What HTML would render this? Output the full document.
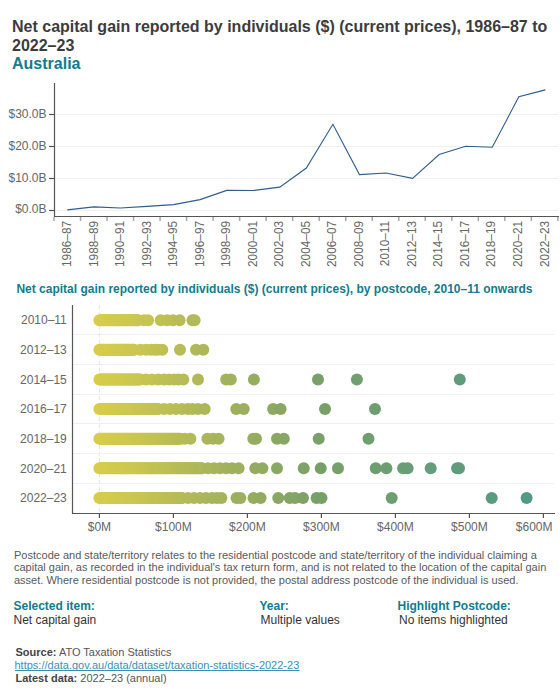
<!DOCTYPE html>
<html><head><meta charset="utf-8"><style>
html,body{margin:0;padding:0;background:#fff;width:560px;height:700px;overflow:hidden;}
body{position:relative;font-family:'Liberation Sans', sans-serif;}
svg{position:absolute;left:0;top:0;}
.ax{font-family:'Liberation Sans', sans-serif;font-size:12px;fill:#666;}
.t{position:absolute;white-space:nowrap;}
</style></head><body>
<svg width="560" height="700" viewBox="0 0 560 700">
<text x="12" y="32" style="font-family:'Liberation Sans', sans-serif;font-size:16px;font-weight:bold;fill:#3c3c3c">Net capital gain reported by individuals ($) (current prices), 1986–87 to</text>
<text x="12" y="50.7" style="font-family:'Liberation Sans', sans-serif;font-size:16px;font-weight:bold;fill:#3c3c3c">2022–23</text>
<text x="12" y="69.1" style="font-family:'Liberation Sans', sans-serif;font-size:16px;font-weight:bold;fill:#137b8d">Australia</text>
<text x="16.4" y="292.8" style="font-family:'Liberation Sans', sans-serif;font-size:12px;font-weight:bold;fill:#137b8d">Net capital gain reported by individuals ($) (current prices), by postcode, 2010–11 onwards</text>
<line x1="55" y1="114.5" x2="558" y2="114.5" stroke="#f0f0f0" stroke-width="1"/>
<line x1="55" y1="146.5" x2="558" y2="146.5" stroke="#f0f0f0" stroke-width="1"/>
<line x1="55" y1="178.5" x2="558" y2="178.5" stroke="#f0f0f0" stroke-width="1"/>
<line x1="55" y1="210.5" x2="558" y2="210.5" stroke="#f0f0f0" stroke-width="1"/>
<line x1="49" y1="114.5" x2="54.5" y2="114.5" stroke="#555" stroke-width="1.2"/>
<text x="46.5" y="117.5" text-anchor="end" class="ax">$30.0B</text>
<line x1="49" y1="146.5" x2="54.5" y2="146.5" stroke="#555" stroke-width="1.2"/>
<text x="46.5" y="149.5" text-anchor="end" class="ax">$20.0B</text>
<line x1="49" y1="178.5" x2="54.5" y2="178.5" stroke="#555" stroke-width="1.2"/>
<text x="46.5" y="181.5" text-anchor="end" class="ax">$10.0B</text>
<line x1="49" y1="210.5" x2="54.5" y2="210.5" stroke="#555" stroke-width="1.2"/>
<text x="46.5" y="212.5" text-anchor="end" class="ax">$0.0B</text>
<line x1="54.5" y1="83" x2="54.5" y2="216.6" stroke="#555" stroke-width="1.2"/>
<line x1="54" y1="216.5" x2="559" y2="216.5" stroke="#555" stroke-width="1.2"/>
<line x1="54.00" y1="217" x2="54.00" y2="221" stroke="#a8a8a8" stroke-width="1.5"/>
<line x1="80.52" y1="217" x2="80.52" y2="221" stroke="#a8a8a8" stroke-width="1.5"/>
<line x1="107.04" y1="217" x2="107.04" y2="221" stroke="#a8a8a8" stroke-width="1.5"/>
<line x1="133.56" y1="217" x2="133.56" y2="221" stroke="#a8a8a8" stroke-width="1.5"/>
<line x1="160.08" y1="217" x2="160.08" y2="221" stroke="#a8a8a8" stroke-width="1.5"/>
<line x1="186.60" y1="217" x2="186.60" y2="221" stroke="#a8a8a8" stroke-width="1.5"/>
<line x1="213.12" y1="217" x2="213.12" y2="221" stroke="#a8a8a8" stroke-width="1.5"/>
<line x1="239.64" y1="217" x2="239.64" y2="221" stroke="#a8a8a8" stroke-width="1.5"/>
<line x1="266.16" y1="217" x2="266.16" y2="221" stroke="#a8a8a8" stroke-width="1.5"/>
<line x1="292.68" y1="217" x2="292.68" y2="221" stroke="#a8a8a8" stroke-width="1.5"/>
<line x1="319.20" y1="217" x2="319.20" y2="221" stroke="#a8a8a8" stroke-width="1.5"/>
<line x1="345.72" y1="217" x2="345.72" y2="221" stroke="#a8a8a8" stroke-width="1.5"/>
<line x1="372.24" y1="217" x2="372.24" y2="221" stroke="#a8a8a8" stroke-width="1.5"/>
<line x1="398.76" y1="217" x2="398.76" y2="221" stroke="#a8a8a8" stroke-width="1.5"/>
<line x1="425.28" y1="217" x2="425.28" y2="221" stroke="#a8a8a8" stroke-width="1.5"/>
<line x1="451.80" y1="217" x2="451.80" y2="221" stroke="#a8a8a8" stroke-width="1.5"/>
<line x1="478.32" y1="217" x2="478.32" y2="221" stroke="#a8a8a8" stroke-width="1.5"/>
<line x1="504.84" y1="217" x2="504.84" y2="221" stroke="#a8a8a8" stroke-width="1.5"/>
<line x1="531.36" y1="217" x2="531.36" y2="221" stroke="#a8a8a8" stroke-width="1.5"/>
<line x1="557.88" y1="217" x2="557.88" y2="221" stroke="#a8a8a8" stroke-width="1.5"/>
<text transform="translate(71.15,220.9) rotate(-90)" text-anchor="end" class="ax" style="font-size:11.85px">1986–87</text>
<text transform="translate(97.67,220.9) rotate(-90)" text-anchor="end" class="ax" style="font-size:11.85px">1988–89</text>
<text transform="translate(124.19,220.9) rotate(-90)" text-anchor="end" class="ax" style="font-size:11.85px">1990–91</text>
<text transform="translate(150.71,220.9) rotate(-90)" text-anchor="end" class="ax" style="font-size:11.85px">1992–93</text>
<text transform="translate(177.23,220.9) rotate(-90)" text-anchor="end" class="ax" style="font-size:11.85px">1994–95</text>
<text transform="translate(203.75,220.9) rotate(-90)" text-anchor="end" class="ax" style="font-size:11.85px">1996–97</text>
<text transform="translate(230.27,220.9) rotate(-90)" text-anchor="end" class="ax" style="font-size:11.85px">1998–99</text>
<text transform="translate(256.79,220.9) rotate(-90)" text-anchor="end" class="ax" style="font-size:11.85px">2000–01</text>
<text transform="translate(283.31,220.9) rotate(-90)" text-anchor="end" class="ax" style="font-size:11.85px">2002–03</text>
<text transform="translate(309.83,220.9) rotate(-90)" text-anchor="end" class="ax" style="font-size:11.85px">2004–05</text>
<text transform="translate(336.35,220.9) rotate(-90)" text-anchor="end" class="ax" style="font-size:11.85px">2006–07</text>
<text transform="translate(362.87,220.9) rotate(-90)" text-anchor="end" class="ax" style="font-size:11.85px">2008–09</text>
<text transform="translate(389.39,220.9) rotate(-90)" text-anchor="end" class="ax" style="font-size:11.85px">2010–11</text>
<text transform="translate(415.91,220.9) rotate(-90)" text-anchor="end" class="ax" style="font-size:11.85px">2012–13</text>
<text transform="translate(442.43,220.9) rotate(-90)" text-anchor="end" class="ax" style="font-size:11.85px">2014–15</text>
<text transform="translate(468.95,220.9) rotate(-90)" text-anchor="end" class="ax" style="font-size:11.85px">2016–17</text>
<text transform="translate(495.47,220.9) rotate(-90)" text-anchor="end" class="ax" style="font-size:11.85px">2018–19</text>
<text transform="translate(521.99,220.9) rotate(-90)" text-anchor="end" class="ax" style="font-size:11.85px">2020–21</text>
<text transform="translate(548.51,220.9) rotate(-90)" text-anchor="end" class="ax" style="font-size:11.85px">2022–23</text>
<path d="M67.30,209.9 L93.86,206.9 L120.42,208 L146.98,206.4 L173.54,204.6 L200.10,199.6 L226.66,190.4 L253.22,190.5 L279.78,187.1 L306.34,168 L332.90,124.3 L359.46,174.6 L386.02,173 L412.58,178.4 L439.14,154.6 L465.70,146.3 L492.26,147.3 L518.82,96.8 L545.38,89.9" fill="none" stroke="#2e5d8e" stroke-width="1.1" stroke-linejoin="miter"/>
<line x1="99.4" y1="305" x2="99.4" y2="512.5" stroke="#e6e6e6" stroke-width="1" stroke-dasharray="4,3"/>
<line x1="73" y1="334.5" x2="554" y2="334.5" stroke="#f0f0f0" stroke-width="1"/>
<line x1="73" y1="364.5" x2="554" y2="364.5" stroke="#f0f0f0" stroke-width="1"/>
<line x1="73" y1="394.5" x2="554" y2="394.5" stroke="#f0f0f0" stroke-width="1"/>
<line x1="73" y1="423.5" x2="554" y2="423.5" stroke="#f0f0f0" stroke-width="1"/>
<line x1="73" y1="453.5" x2="554" y2="453.5" stroke="#f0f0f0" stroke-width="1"/>
<line x1="73" y1="483.5" x2="554" y2="483.5" stroke="#f0f0f0" stroke-width="1"/>
<line x1="72.5" y1="305" x2="72.5" y2="514.1" stroke="#555" stroke-width="1.2"/>
<line x1="72" y1="513.5" x2="555" y2="513.5" stroke="#555" stroke-width="1.2"/>
<line x1="99.4" y1="514" x2="99.4" y2="518" stroke="#555" stroke-width="1.2"/>
<text x="99.4" y="531" text-anchor="middle" class="ax">$0M</text>
<line x1="173.4" y1="514" x2="173.4" y2="518" stroke="#555" stroke-width="1.2"/>
<text x="173.4" y="531" text-anchor="middle" class="ax">$100M</text>
<line x1="247.4" y1="514" x2="247.4" y2="518" stroke="#555" stroke-width="1.2"/>
<text x="247.4" y="531" text-anchor="middle" class="ax">$200M</text>
<line x1="321.4" y1="514" x2="321.4" y2="518" stroke="#555" stroke-width="1.2"/>
<text x="321.4" y="531" text-anchor="middle" class="ax">$300M</text>
<line x1="395.4" y1="514" x2="395.4" y2="518" stroke="#555" stroke-width="1.2"/>
<text x="395.4" y="531" text-anchor="middle" class="ax">$400M</text>
<line x1="469.4" y1="514" x2="469.4" y2="518" stroke="#555" stroke-width="1.2"/>
<text x="469.4" y="531" text-anchor="middle" class="ax">$500M</text>
<line x1="543.4" y1="514" x2="543.4" y2="518" stroke="#555" stroke-width="1.2"/>
<text x="552.5" y="531" text-anchor="end" class="ax">$600M</text>
<text x="66.8" y="324.4" text-anchor="end" class="ax">2010–11</text>
<text x="66.8" y="354.0" text-anchor="end" class="ax">2012–13</text>
<text x="66.8" y="383.6" text-anchor="end" class="ax">2014–15</text>
<text x="66.8" y="413.3" text-anchor="end" class="ax">2016–17</text>
<text x="66.8" y="442.9" text-anchor="end" class="ax">2018–19</text>
<text x="66.8" y="472.5" text-anchor="end" class="ax">2020–21</text>
<text x="66.8" y="502.1" text-anchor="end" class="ax">2022–23</text>
<circle cx="99.40" cy="320.2" r="6" fill="#d8cd4a"/>
<circle cx="100.40" cy="320.2" r="6" fill="#d8cd4a"/>
<circle cx="101.40" cy="320.2" r="6" fill="#d7cd4a"/>
<circle cx="102.40" cy="320.2" r="6" fill="#d7cd4a"/>
<circle cx="103.40" cy="320.2" r="6" fill="#d7cc4b"/>
<circle cx="104.40" cy="320.2" r="6" fill="#d6cc4b"/>
<circle cx="105.40" cy="320.2" r="6" fill="#d6cc4b"/>
<circle cx="106.40" cy="320.2" r="6" fill="#d6cc4b"/>
<circle cx="107.40" cy="320.2" r="6" fill="#d5cc4b"/>
<circle cx="108.40" cy="320.2" r="6" fill="#d5cc4b"/>
<circle cx="109.40" cy="320.2" r="6" fill="#d5cb4c"/>
<circle cx="110.40" cy="320.2" r="6" fill="#d4cb4c"/>
<circle cx="111.40" cy="320.2" r="6" fill="#d4cb4c"/>
<circle cx="112.40" cy="320.2" r="6" fill="#d4cb4c"/>
<circle cx="113.40" cy="320.2" r="6" fill="#d3cb4c"/>
<circle cx="114.40" cy="320.2" r="6" fill="#d3cb4c"/>
<circle cx="115.40" cy="320.2" r="6" fill="#d3ca4d"/>
<circle cx="116.40" cy="320.2" r="6" fill="#d2ca4d"/>
<circle cx="117.40" cy="320.2" r="6" fill="#d2ca4d"/>
<circle cx="118.40" cy="320.2" r="6" fill="#d2ca4d"/>
<circle cx="119.40" cy="320.2" r="6" fill="#d1ca4d"/>
<circle cx="120.40" cy="320.2" r="6" fill="#d1ca4d"/>
<circle cx="121.40" cy="320.2" r="6" fill="#d1c94e"/>
<circle cx="122.40" cy="320.2" r="6" fill="#d0c94e"/>
<circle cx="123.40" cy="320.2" r="6" fill="#d0c94e"/>
<circle cx="124.40" cy="320.2" r="6" fill="#d0c94e"/>
<circle cx="125.40" cy="320.2" r="6" fill="#cfc94e"/>
<circle cx="126.40" cy="320.2" r="6" fill="#cfc94e"/>
<circle cx="127.40" cy="320.2" r="6" fill="#cfc84f"/>
<circle cx="128.40" cy="320.2" r="6" fill="#cec84f"/>
<circle cx="129.40" cy="320.2" r="6" fill="#cec84f"/>
<circle cx="130.40" cy="320.2" r="6" fill="#cec84f"/>
<circle cx="131.40" cy="320.2" r="6" fill="#cdc84f"/>
<circle cx="132.40" cy="320.2" r="6" fill="#cdc84f"/>
<circle cx="133.40" cy="320.2" r="6" fill="#cdc750"/>
<circle cx="134.40" cy="320.2" r="6" fill="#ccc750"/>
<circle cx="135.40" cy="320.2" r="6" fill="#ccc750"/>
<circle cx="136.40" cy="320.2" r="6" fill="#ccc750"/>
<circle cx="137.40" cy="320.2" r="6" fill="#cbc750"/>
<circle cx="138.00" cy="320.2" r="6" fill="#cbc650"/>
<circle cx="144.00" cy="320.2" r="6" fill="#c8c551"/>
<circle cx="148.10" cy="320.2" r="6" fill="#c6c452"/>
<circle cx="160.70" cy="320.2" r="6" fill="#c1c153"/>
<circle cx="167.00" cy="320.2" r="6" fill="#bebf54"/>
<circle cx="173.00" cy="320.2" r="6" fill="#bbbe55"/>
<circle cx="179.60" cy="320.2" r="6" fill="#b8bc56"/>
<circle cx="192.50" cy="320.2" r="6" fill="#b2b957"/>
<circle cx="194.60" cy="320.2" r="6" fill="#b1b958"/>
<circle cx="99.40" cy="349.8" r="6" fill="#d8cd4a"/>
<circle cx="100.40" cy="349.8" r="6" fill="#d8cd4a"/>
<circle cx="101.40" cy="349.8" r="6" fill="#d7cd4a"/>
<circle cx="102.40" cy="349.8" r="6" fill="#d7cd4a"/>
<circle cx="103.40" cy="349.8" r="6" fill="#d7cc4b"/>
<circle cx="104.40" cy="349.8" r="6" fill="#d6cc4b"/>
<circle cx="105.40" cy="349.8" r="6" fill="#d6cc4b"/>
<circle cx="106.40" cy="349.8" r="6" fill="#d6cc4b"/>
<circle cx="107.40" cy="349.8" r="6" fill="#d5cc4b"/>
<circle cx="108.40" cy="349.8" r="6" fill="#d5cc4b"/>
<circle cx="109.40" cy="349.8" r="6" fill="#d5cb4c"/>
<circle cx="110.40" cy="349.8" r="6" fill="#d4cb4c"/>
<circle cx="111.40" cy="349.8" r="6" fill="#d4cb4c"/>
<circle cx="112.40" cy="349.8" r="6" fill="#d4cb4c"/>
<circle cx="113.40" cy="349.8" r="6" fill="#d3cb4c"/>
<circle cx="114.40" cy="349.8" r="6" fill="#d3cb4c"/>
<circle cx="115.40" cy="349.8" r="6" fill="#d3ca4d"/>
<circle cx="116.40" cy="349.8" r="6" fill="#d2ca4d"/>
<circle cx="117.40" cy="349.8" r="6" fill="#d2ca4d"/>
<circle cx="118.40" cy="349.8" r="6" fill="#d2ca4d"/>
<circle cx="119.40" cy="349.8" r="6" fill="#d1ca4d"/>
<circle cx="120.40" cy="349.8" r="6" fill="#d1ca4d"/>
<circle cx="121.40" cy="349.8" r="6" fill="#d1c94e"/>
<circle cx="122.40" cy="349.8" r="6" fill="#d0c94e"/>
<circle cx="123.40" cy="349.8" r="6" fill="#d0c94e"/>
<circle cx="124.40" cy="349.8" r="6" fill="#d0c94e"/>
<circle cx="125.40" cy="349.8" r="6" fill="#cfc94e"/>
<circle cx="126.40" cy="349.8" r="6" fill="#cfc94e"/>
<circle cx="127.40" cy="349.8" r="6" fill="#cfc84f"/>
<circle cx="128.40" cy="349.8" r="6" fill="#cec84f"/>
<circle cx="129.40" cy="349.8" r="6" fill="#cec84f"/>
<circle cx="130.40" cy="349.8" r="6" fill="#cec84f"/>
<circle cx="131.40" cy="349.8" r="6" fill="#cdc84f"/>
<circle cx="132.40" cy="349.8" r="6" fill="#cdc84f"/>
<circle cx="133.40" cy="349.8" r="6" fill="#cdc750"/>
<circle cx="134.00" cy="349.8" r="6" fill="#cdc750"/>
<circle cx="140.50" cy="349.8" r="6" fill="#cac651"/>
<circle cx="146.00" cy="349.8" r="6" fill="#c7c551"/>
<circle cx="151.00" cy="349.8" r="6" fill="#c5c352"/>
<circle cx="154.80" cy="349.8" r="6" fill="#c3c252"/>
<circle cx="157.70" cy="349.8" r="6" fill="#c2c253"/>
<circle cx="162.30" cy="349.8" r="6" fill="#c0c153"/>
<circle cx="180.00" cy="349.8" r="6" fill="#b8bc56"/>
<circle cx="196.00" cy="349.8" r="6" fill="#b1b858"/>
<circle cx="203.30" cy="349.8" r="6" fill="#adb759"/>
<circle cx="99.40" cy="379.4" r="6" fill="#d8cd4a"/>
<circle cx="100.40" cy="379.4" r="6" fill="#d8cd4a"/>
<circle cx="101.40" cy="379.4" r="6" fill="#d7cd4a"/>
<circle cx="102.40" cy="379.4" r="6" fill="#d7cd4a"/>
<circle cx="103.40" cy="379.4" r="6" fill="#d7cc4b"/>
<circle cx="104.40" cy="379.4" r="6" fill="#d6cc4b"/>
<circle cx="105.40" cy="379.4" r="6" fill="#d6cc4b"/>
<circle cx="106.40" cy="379.4" r="6" fill="#d6cc4b"/>
<circle cx="107.40" cy="379.4" r="6" fill="#d5cc4b"/>
<circle cx="108.40" cy="379.4" r="6" fill="#d5cc4b"/>
<circle cx="109.40" cy="379.4" r="6" fill="#d5cb4c"/>
<circle cx="110.40" cy="379.4" r="6" fill="#d4cb4c"/>
<circle cx="111.40" cy="379.4" r="6" fill="#d4cb4c"/>
<circle cx="112.40" cy="379.4" r="6" fill="#d4cb4c"/>
<circle cx="113.40" cy="379.4" r="6" fill="#d3cb4c"/>
<circle cx="114.40" cy="379.4" r="6" fill="#d3cb4c"/>
<circle cx="115.40" cy="379.4" r="6" fill="#d3ca4d"/>
<circle cx="116.40" cy="379.4" r="6" fill="#d2ca4d"/>
<circle cx="117.40" cy="379.4" r="6" fill="#d2ca4d"/>
<circle cx="118.40" cy="379.4" r="6" fill="#d2ca4d"/>
<circle cx="119.40" cy="379.4" r="6" fill="#d1ca4d"/>
<circle cx="120.40" cy="379.4" r="6" fill="#d1ca4d"/>
<circle cx="121.40" cy="379.4" r="6" fill="#d1c94e"/>
<circle cx="122.40" cy="379.4" r="6" fill="#d0c94e"/>
<circle cx="123.40" cy="379.4" r="6" fill="#d0c94e"/>
<circle cx="124.40" cy="379.4" r="6" fill="#d0c94e"/>
<circle cx="125.40" cy="379.4" r="6" fill="#cfc94e"/>
<circle cx="126.40" cy="379.4" r="6" fill="#cfc94e"/>
<circle cx="127.40" cy="379.4" r="6" fill="#cfc84f"/>
<circle cx="128.40" cy="379.4" r="6" fill="#cec84f"/>
<circle cx="129.40" cy="379.4" r="6" fill="#cec84f"/>
<circle cx="130.40" cy="379.4" r="6" fill="#cec84f"/>
<circle cx="131.40" cy="379.4" r="6" fill="#cdc84f"/>
<circle cx="132.40" cy="379.4" r="6" fill="#cdc84f"/>
<circle cx="133.40" cy="379.4" r="6" fill="#cdc750"/>
<circle cx="134.40" cy="379.4" r="6" fill="#ccc750"/>
<circle cx="135.40" cy="379.4" r="6" fill="#ccc750"/>
<circle cx="136.40" cy="379.4" r="6" fill="#ccc750"/>
<circle cx="137.40" cy="379.4" r="6" fill="#cbc750"/>
<circle cx="138.40" cy="379.4" r="6" fill="#cbc650"/>
<circle cx="139.40" cy="379.4" r="6" fill="#cac650"/>
<circle cx="140.00" cy="379.4" r="6" fill="#cac651"/>
<circle cx="146.00" cy="379.4" r="6" fill="#c7c551"/>
<circle cx="152.00" cy="379.4" r="6" fill="#c5c352"/>
<circle cx="158.20" cy="379.4" r="6" fill="#c2c253"/>
<circle cx="164.00" cy="379.4" r="6" fill="#bfc054"/>
<circle cx="169.00" cy="379.4" r="6" fill="#bdbf54"/>
<circle cx="174.00" cy="379.4" r="6" fill="#bbbe55"/>
<circle cx="178.20" cy="379.4" r="6" fill="#b9bd55"/>
<circle cx="183.30" cy="379.4" r="6" fill="#b7bc56"/>
<circle cx="198.00" cy="379.4" r="6" fill="#b0b858"/>
<circle cx="226.20" cy="379.4" r="6" fill="#a3b25c"/>
<circle cx="230.80" cy="379.4" r="6" fill="#a1b15c"/>
<circle cx="253.90" cy="379.4" r="6" fill="#96ad5f"/>
<circle cx="318.00" cy="379.4" r="6" fill="#78a068"/>
<circle cx="356.90" cy="379.4" r="6" fill="#719f6e"/>
<circle cx="459.80" cy="379.4" r="6" fill="#609c7c"/>
<circle cx="99.40" cy="409.1" r="6" fill="#d8cd4a"/>
<circle cx="100.40" cy="409.1" r="6" fill="#d8cd4a"/>
<circle cx="101.40" cy="409.1" r="6" fill="#d7cd4a"/>
<circle cx="102.40" cy="409.1" r="6" fill="#d7cd4a"/>
<circle cx="103.40" cy="409.1" r="6" fill="#d7cc4b"/>
<circle cx="104.40" cy="409.1" r="6" fill="#d6cc4b"/>
<circle cx="105.40" cy="409.1" r="6" fill="#d6cc4b"/>
<circle cx="106.40" cy="409.1" r="6" fill="#d6cc4b"/>
<circle cx="107.40" cy="409.1" r="6" fill="#d5cc4b"/>
<circle cx="108.40" cy="409.1" r="6" fill="#d5cc4b"/>
<circle cx="109.40" cy="409.1" r="6" fill="#d5cb4c"/>
<circle cx="110.40" cy="409.1" r="6" fill="#d4cb4c"/>
<circle cx="111.40" cy="409.1" r="6" fill="#d4cb4c"/>
<circle cx="112.40" cy="409.1" r="6" fill="#d4cb4c"/>
<circle cx="113.40" cy="409.1" r="6" fill="#d3cb4c"/>
<circle cx="114.40" cy="409.1" r="6" fill="#d3cb4c"/>
<circle cx="115.40" cy="409.1" r="6" fill="#d3ca4d"/>
<circle cx="116.40" cy="409.1" r="6" fill="#d2ca4d"/>
<circle cx="117.40" cy="409.1" r="6" fill="#d2ca4d"/>
<circle cx="118.40" cy="409.1" r="6" fill="#d2ca4d"/>
<circle cx="119.40" cy="409.1" r="6" fill="#d1ca4d"/>
<circle cx="120.40" cy="409.1" r="6" fill="#d1ca4d"/>
<circle cx="121.40" cy="409.1" r="6" fill="#d1c94e"/>
<circle cx="122.40" cy="409.1" r="6" fill="#d0c94e"/>
<circle cx="123.40" cy="409.1" r="6" fill="#d0c94e"/>
<circle cx="124.40" cy="409.1" r="6" fill="#d0c94e"/>
<circle cx="125.40" cy="409.1" r="6" fill="#cfc94e"/>
<circle cx="126.40" cy="409.1" r="6" fill="#cfc94e"/>
<circle cx="127.40" cy="409.1" r="6" fill="#cfc84f"/>
<circle cx="128.40" cy="409.1" r="6" fill="#cec84f"/>
<circle cx="129.40" cy="409.1" r="6" fill="#cec84f"/>
<circle cx="130.40" cy="409.1" r="6" fill="#cec84f"/>
<circle cx="131.40" cy="409.1" r="6" fill="#cdc84f"/>
<circle cx="132.40" cy="409.1" r="6" fill="#cdc84f"/>
<circle cx="133.40" cy="409.1" r="6" fill="#cdc750"/>
<circle cx="134.40" cy="409.1" r="6" fill="#ccc750"/>
<circle cx="135.40" cy="409.1" r="6" fill="#ccc750"/>
<circle cx="136.40" cy="409.1" r="6" fill="#ccc750"/>
<circle cx="137.40" cy="409.1" r="6" fill="#cbc750"/>
<circle cx="138.40" cy="409.1" r="6" fill="#cbc650"/>
<circle cx="139.40" cy="409.1" r="6" fill="#cac650"/>
<circle cx="140.40" cy="409.1" r="6" fill="#cac651"/>
<circle cx="141.40" cy="409.1" r="6" fill="#c9c651"/>
<circle cx="142.40" cy="409.1" r="6" fill="#c9c551"/>
<circle cx="143.40" cy="409.1" r="6" fill="#c9c551"/>
<circle cx="144.40" cy="409.1" r="6" fill="#c8c551"/>
<circle cx="145.40" cy="409.1" r="6" fill="#c8c551"/>
<circle cx="146.40" cy="409.1" r="6" fill="#c7c451"/>
<circle cx="147.40" cy="409.1" r="6" fill="#c7c452"/>
<circle cx="148.40" cy="409.1" r="6" fill="#c6c452"/>
<circle cx="149.40" cy="409.1" r="6" fill="#c6c452"/>
<circle cx="150.40" cy="409.1" r="6" fill="#c5c352"/>
<circle cx="151.40" cy="409.1" r="6" fill="#c5c352"/>
<circle cx="152.40" cy="409.1" r="6" fill="#c4c352"/>
<circle cx="153.40" cy="409.1" r="6" fill="#c4c352"/>
<circle cx="154.40" cy="409.1" r="6" fill="#c4c252"/>
<circle cx="155.40" cy="409.1" r="6" fill="#c3c253"/>
<circle cx="156.40" cy="409.1" r="6" fill="#c3c253"/>
<circle cx="157.40" cy="409.1" r="6" fill="#c2c253"/>
<circle cx="158.00" cy="409.1" r="6" fill="#c2c253"/>
<circle cx="164.00" cy="409.1" r="6" fill="#bfc054"/>
<circle cx="170.00" cy="409.1" r="6" fill="#bdbf54"/>
<circle cx="176.00" cy="409.1" r="6" fill="#babd55"/>
<circle cx="182.00" cy="409.1" r="6" fill="#b7bc56"/>
<circle cx="188.00" cy="409.1" r="6" fill="#b4ba57"/>
<circle cx="192.50" cy="409.1" r="6" fill="#b2b957"/>
<circle cx="198.00" cy="409.1" r="6" fill="#b0b858"/>
<circle cx="204.70" cy="409.1" r="6" fill="#adb759"/>
<circle cx="236.25" cy="409.1" r="6" fill="#9eb05d"/>
<circle cx="243.75" cy="409.1" r="6" fill="#9baf5e"/>
<circle cx="273.10" cy="409.1" r="6" fill="#8da962"/>
<circle cx="280.60" cy="409.1" r="6" fill="#89a763"/>
<circle cx="325.00" cy="409.1" r="6" fill="#77a069"/>
<circle cx="375.00" cy="409.1" r="6" fill="#6e9e70"/>
<circle cx="99.40" cy="438.7" r="6" fill="#d8cd4a"/>
<circle cx="100.40" cy="438.7" r="6" fill="#d8cd4a"/>
<circle cx="101.40" cy="438.7" r="6" fill="#d7cd4a"/>
<circle cx="102.40" cy="438.7" r="6" fill="#d7cd4a"/>
<circle cx="103.40" cy="438.7" r="6" fill="#d7cc4b"/>
<circle cx="104.40" cy="438.7" r="6" fill="#d6cc4b"/>
<circle cx="105.40" cy="438.7" r="6" fill="#d6cc4b"/>
<circle cx="106.40" cy="438.7" r="6" fill="#d6cc4b"/>
<circle cx="107.40" cy="438.7" r="6" fill="#d5cc4b"/>
<circle cx="108.40" cy="438.7" r="6" fill="#d5cc4b"/>
<circle cx="109.40" cy="438.7" r="6" fill="#d5cb4c"/>
<circle cx="110.40" cy="438.7" r="6" fill="#d4cb4c"/>
<circle cx="111.40" cy="438.7" r="6" fill="#d4cb4c"/>
<circle cx="112.40" cy="438.7" r="6" fill="#d4cb4c"/>
<circle cx="113.40" cy="438.7" r="6" fill="#d3cb4c"/>
<circle cx="114.40" cy="438.7" r="6" fill="#d3cb4c"/>
<circle cx="115.40" cy="438.7" r="6" fill="#d3ca4d"/>
<circle cx="116.40" cy="438.7" r="6" fill="#d2ca4d"/>
<circle cx="117.40" cy="438.7" r="6" fill="#d2ca4d"/>
<circle cx="118.40" cy="438.7" r="6" fill="#d2ca4d"/>
<circle cx="119.40" cy="438.7" r="6" fill="#d1ca4d"/>
<circle cx="120.40" cy="438.7" r="6" fill="#d1ca4d"/>
<circle cx="121.40" cy="438.7" r="6" fill="#d1c94e"/>
<circle cx="122.40" cy="438.7" r="6" fill="#d0c94e"/>
<circle cx="123.40" cy="438.7" r="6" fill="#d0c94e"/>
<circle cx="124.40" cy="438.7" r="6" fill="#d0c94e"/>
<circle cx="125.40" cy="438.7" r="6" fill="#cfc94e"/>
<circle cx="126.40" cy="438.7" r="6" fill="#cfc94e"/>
<circle cx="127.40" cy="438.7" r="6" fill="#cfc84f"/>
<circle cx="128.40" cy="438.7" r="6" fill="#cec84f"/>
<circle cx="129.40" cy="438.7" r="6" fill="#cec84f"/>
<circle cx="130.40" cy="438.7" r="6" fill="#cec84f"/>
<circle cx="131.40" cy="438.7" r="6" fill="#cdc84f"/>
<circle cx="132.40" cy="438.7" r="6" fill="#cdc84f"/>
<circle cx="133.40" cy="438.7" r="6" fill="#cdc750"/>
<circle cx="134.40" cy="438.7" r="6" fill="#ccc750"/>
<circle cx="135.40" cy="438.7" r="6" fill="#ccc750"/>
<circle cx="136.40" cy="438.7" r="6" fill="#ccc750"/>
<circle cx="137.40" cy="438.7" r="6" fill="#cbc750"/>
<circle cx="138.40" cy="438.7" r="6" fill="#cbc650"/>
<circle cx="139.40" cy="438.7" r="6" fill="#cac650"/>
<circle cx="140.40" cy="438.7" r="6" fill="#cac651"/>
<circle cx="141.40" cy="438.7" r="6" fill="#c9c651"/>
<circle cx="142.40" cy="438.7" r="6" fill="#c9c551"/>
<circle cx="143.40" cy="438.7" r="6" fill="#c9c551"/>
<circle cx="144.40" cy="438.7" r="6" fill="#c8c551"/>
<circle cx="145.40" cy="438.7" r="6" fill="#c8c551"/>
<circle cx="146.40" cy="438.7" r="6" fill="#c7c451"/>
<circle cx="147.40" cy="438.7" r="6" fill="#c7c452"/>
<circle cx="148.40" cy="438.7" r="6" fill="#c6c452"/>
<circle cx="149.40" cy="438.7" r="6" fill="#c6c452"/>
<circle cx="150.40" cy="438.7" r="6" fill="#c5c352"/>
<circle cx="151.40" cy="438.7" r="6" fill="#c5c352"/>
<circle cx="152.40" cy="438.7" r="6" fill="#c4c352"/>
<circle cx="153.40" cy="438.7" r="6" fill="#c4c352"/>
<circle cx="154.40" cy="438.7" r="6" fill="#c4c252"/>
<circle cx="155.40" cy="438.7" r="6" fill="#c3c253"/>
<circle cx="156.40" cy="438.7" r="6" fill="#c3c253"/>
<circle cx="157.40" cy="438.7" r="6" fill="#c2c253"/>
<circle cx="158.40" cy="438.7" r="6" fill="#c2c253"/>
<circle cx="159.40" cy="438.7" r="6" fill="#c1c153"/>
<circle cx="160.40" cy="438.7" r="6" fill="#c1c153"/>
<circle cx="161.40" cy="438.7" r="6" fill="#c0c153"/>
<circle cx="162.40" cy="438.7" r="6" fill="#c0c153"/>
<circle cx="163.40" cy="438.7" r="6" fill="#c0c054"/>
<circle cx="164.40" cy="438.7" r="6" fill="#bfc054"/>
<circle cx="165.40" cy="438.7" r="6" fill="#bfc054"/>
<circle cx="166.40" cy="438.7" r="6" fill="#bec054"/>
<circle cx="167.40" cy="438.7" r="6" fill="#bebf54"/>
<circle cx="168.40" cy="438.7" r="6" fill="#bdbf54"/>
<circle cx="169.40" cy="438.7" r="6" fill="#bdbf54"/>
<circle cx="170.40" cy="438.7" r="6" fill="#bcbf54"/>
<circle cx="171.40" cy="438.7" r="6" fill="#bcbe55"/>
<circle cx="172.40" cy="438.7" r="6" fill="#bbbe55"/>
<circle cx="173.40" cy="438.7" r="6" fill="#bbbe55"/>
<circle cx="174.40" cy="438.7" r="6" fill="#bbbe55"/>
<circle cx="175.40" cy="438.7" r="6" fill="#babd55"/>
<circle cx="176.40" cy="438.7" r="6" fill="#babd55"/>
<circle cx="177.40" cy="438.7" r="6" fill="#b9bd55"/>
<circle cx="178.40" cy="438.7" r="6" fill="#b9bd56"/>
<circle cx="179.40" cy="438.7" r="6" fill="#b8bc56"/>
<circle cx="180.00" cy="438.7" r="6" fill="#b8bc56"/>
<circle cx="184.50" cy="438.7" r="6" fill="#b6bb56"/>
<circle cx="190.40" cy="438.7" r="6" fill="#b3ba57"/>
<circle cx="207.40" cy="438.7" r="6" fill="#acb659"/>
<circle cx="213.00" cy="438.7" r="6" fill="#a9b55a"/>
<circle cx="218.60" cy="438.7" r="6" fill="#a6b45b"/>
<circle cx="253.30" cy="438.7" r="6" fill="#96ad5f"/>
<circle cx="256.00" cy="438.7" r="6" fill="#95ac60"/>
<circle cx="277.00" cy="438.7" r="6" fill="#8ba863"/>
<circle cx="283.80" cy="438.7" r="6" fill="#88a763"/>
<circle cx="318.70" cy="438.7" r="6" fill="#78a068"/>
<circle cx="368.50" cy="438.7" r="6" fill="#6f9f6f"/>
<circle cx="99.40" cy="468.3" r="6" fill="#d8cd4a"/>
<circle cx="100.40" cy="468.3" r="6" fill="#d8cd4a"/>
<circle cx="101.40" cy="468.3" r="6" fill="#d7cd4a"/>
<circle cx="102.40" cy="468.3" r="6" fill="#d7cd4a"/>
<circle cx="103.40" cy="468.3" r="6" fill="#d7cc4b"/>
<circle cx="104.40" cy="468.3" r="6" fill="#d6cc4b"/>
<circle cx="105.40" cy="468.3" r="6" fill="#d6cc4b"/>
<circle cx="106.40" cy="468.3" r="6" fill="#d6cc4b"/>
<circle cx="107.40" cy="468.3" r="6" fill="#d5cc4b"/>
<circle cx="108.40" cy="468.3" r="6" fill="#d5cc4b"/>
<circle cx="109.40" cy="468.3" r="6" fill="#d5cb4c"/>
<circle cx="110.40" cy="468.3" r="6" fill="#d4cb4c"/>
<circle cx="111.40" cy="468.3" r="6" fill="#d4cb4c"/>
<circle cx="112.40" cy="468.3" r="6" fill="#d4cb4c"/>
<circle cx="113.40" cy="468.3" r="6" fill="#d3cb4c"/>
<circle cx="114.40" cy="468.3" r="6" fill="#d3cb4c"/>
<circle cx="115.40" cy="468.3" r="6" fill="#d3ca4d"/>
<circle cx="116.40" cy="468.3" r="6" fill="#d2ca4d"/>
<circle cx="117.40" cy="468.3" r="6" fill="#d2ca4d"/>
<circle cx="118.40" cy="468.3" r="6" fill="#d2ca4d"/>
<circle cx="119.40" cy="468.3" r="6" fill="#d1ca4d"/>
<circle cx="120.40" cy="468.3" r="6" fill="#d1ca4d"/>
<circle cx="121.40" cy="468.3" r="6" fill="#d1c94e"/>
<circle cx="122.40" cy="468.3" r="6" fill="#d0c94e"/>
<circle cx="123.40" cy="468.3" r="6" fill="#d0c94e"/>
<circle cx="124.40" cy="468.3" r="6" fill="#d0c94e"/>
<circle cx="125.40" cy="468.3" r="6" fill="#cfc94e"/>
<circle cx="126.40" cy="468.3" r="6" fill="#cfc94e"/>
<circle cx="127.40" cy="468.3" r="6" fill="#cfc84f"/>
<circle cx="128.40" cy="468.3" r="6" fill="#cec84f"/>
<circle cx="129.40" cy="468.3" r="6" fill="#cec84f"/>
<circle cx="130.40" cy="468.3" r="6" fill="#cec84f"/>
<circle cx="131.40" cy="468.3" r="6" fill="#cdc84f"/>
<circle cx="132.40" cy="468.3" r="6" fill="#cdc84f"/>
<circle cx="133.40" cy="468.3" r="6" fill="#cdc750"/>
<circle cx="134.40" cy="468.3" r="6" fill="#ccc750"/>
<circle cx="135.40" cy="468.3" r="6" fill="#ccc750"/>
<circle cx="136.40" cy="468.3" r="6" fill="#ccc750"/>
<circle cx="137.40" cy="468.3" r="6" fill="#cbc750"/>
<circle cx="138.40" cy="468.3" r="6" fill="#cbc650"/>
<circle cx="139.40" cy="468.3" r="6" fill="#cac650"/>
<circle cx="140.40" cy="468.3" r="6" fill="#cac651"/>
<circle cx="141.40" cy="468.3" r="6" fill="#c9c651"/>
<circle cx="142.40" cy="468.3" r="6" fill="#c9c551"/>
<circle cx="143.40" cy="468.3" r="6" fill="#c9c551"/>
<circle cx="144.40" cy="468.3" r="6" fill="#c8c551"/>
<circle cx="145.40" cy="468.3" r="6" fill="#c8c551"/>
<circle cx="146.40" cy="468.3" r="6" fill="#c7c451"/>
<circle cx="147.40" cy="468.3" r="6" fill="#c7c452"/>
<circle cx="148.40" cy="468.3" r="6" fill="#c6c452"/>
<circle cx="149.40" cy="468.3" r="6" fill="#c6c452"/>
<circle cx="150.40" cy="468.3" r="6" fill="#c5c352"/>
<circle cx="151.40" cy="468.3" r="6" fill="#c5c352"/>
<circle cx="152.40" cy="468.3" r="6" fill="#c4c352"/>
<circle cx="153.40" cy="468.3" r="6" fill="#c4c352"/>
<circle cx="154.40" cy="468.3" r="6" fill="#c4c252"/>
<circle cx="155.40" cy="468.3" r="6" fill="#c3c253"/>
<circle cx="156.40" cy="468.3" r="6" fill="#c3c253"/>
<circle cx="157.40" cy="468.3" r="6" fill="#c2c253"/>
<circle cx="158.40" cy="468.3" r="6" fill="#c2c253"/>
<circle cx="159.40" cy="468.3" r="6" fill="#c1c153"/>
<circle cx="160.40" cy="468.3" r="6" fill="#c1c153"/>
<circle cx="161.40" cy="468.3" r="6" fill="#c0c153"/>
<circle cx="162.40" cy="468.3" r="6" fill="#c0c153"/>
<circle cx="163.40" cy="468.3" r="6" fill="#c0c054"/>
<circle cx="164.40" cy="468.3" r="6" fill="#bfc054"/>
<circle cx="165.40" cy="468.3" r="6" fill="#bfc054"/>
<circle cx="166.40" cy="468.3" r="6" fill="#bec054"/>
<circle cx="167.40" cy="468.3" r="6" fill="#bebf54"/>
<circle cx="168.40" cy="468.3" r="6" fill="#bdbf54"/>
<circle cx="169.40" cy="468.3" r="6" fill="#bdbf54"/>
<circle cx="170.40" cy="468.3" r="6" fill="#bcbf54"/>
<circle cx="171.40" cy="468.3" r="6" fill="#bcbe55"/>
<circle cx="172.40" cy="468.3" r="6" fill="#bbbe55"/>
<circle cx="173.40" cy="468.3" r="6" fill="#bbbe55"/>
<circle cx="174.40" cy="468.3" r="6" fill="#bbbe55"/>
<circle cx="175.40" cy="468.3" r="6" fill="#babd55"/>
<circle cx="176.40" cy="468.3" r="6" fill="#babd55"/>
<circle cx="177.40" cy="468.3" r="6" fill="#b9bd55"/>
<circle cx="178.40" cy="468.3" r="6" fill="#b9bd56"/>
<circle cx="179.40" cy="468.3" r="6" fill="#b8bc56"/>
<circle cx="180.40" cy="468.3" r="6" fill="#b8bc56"/>
<circle cx="181.40" cy="468.3" r="6" fill="#b7bc56"/>
<circle cx="182.40" cy="468.3" r="6" fill="#b7bc56"/>
<circle cx="183.40" cy="468.3" r="6" fill="#b6bb56"/>
<circle cx="184.40" cy="468.3" r="6" fill="#b6bb56"/>
<circle cx="185.40" cy="468.3" r="6" fill="#b6bb56"/>
<circle cx="186.40" cy="468.3" r="6" fill="#b5bb57"/>
<circle cx="187.40" cy="468.3" r="6" fill="#b5bb57"/>
<circle cx="188.40" cy="468.3" r="6" fill="#b4ba57"/>
<circle cx="189.40" cy="468.3" r="6" fill="#b4ba57"/>
<circle cx="190.40" cy="468.3" r="6" fill="#b3ba57"/>
<circle cx="191.40" cy="468.3" r="6" fill="#b3ba57"/>
<circle cx="192.40" cy="468.3" r="6" fill="#b2b957"/>
<circle cx="193.40" cy="468.3" r="6" fill="#b2b957"/>
<circle cx="194.40" cy="468.3" r="6" fill="#b2b958"/>
<circle cx="195.40" cy="468.3" r="6" fill="#b1b958"/>
<circle cx="196.40" cy="468.3" r="6" fill="#b1b858"/>
<circle cx="197.40" cy="468.3" r="6" fill="#b0b858"/>
<circle cx="198.40" cy="468.3" r="6" fill="#b0b858"/>
<circle cx="199.40" cy="468.3" r="6" fill="#afb858"/>
<circle cx="200.40" cy="468.3" r="6" fill="#afb758"/>
<circle cx="201.40" cy="468.3" r="6" fill="#aeb758"/>
<circle cx="202.00" cy="468.3" r="6" fill="#aeb759"/>
<circle cx="208.00" cy="468.3" r="6" fill="#abb659"/>
<circle cx="214.00" cy="468.3" r="6" fill="#a8b55a"/>
<circle cx="220.00" cy="468.3" r="6" fill="#a6b45b"/>
<circle cx="226.00" cy="468.3" r="6" fill="#a3b25c"/>
<circle cx="232.00" cy="468.3" r="6" fill="#a0b15d"/>
<circle cx="238.60" cy="468.3" r="6" fill="#9db05d"/>
<circle cx="255.30" cy="468.3" r="6" fill="#95ac60"/>
<circle cx="262.40" cy="468.3" r="6" fill="#92ab61"/>
<circle cx="277.00" cy="468.3" r="6" fill="#8ba863"/>
<circle cx="303.75" cy="468.3" r="6" fill="#7fa366"/>
<circle cx="320.75" cy="468.3" r="6" fill="#77a068"/>
<circle cx="338.00" cy="468.3" r="6" fill="#759f6b"/>
<circle cx="375.75" cy="468.3" r="6" fill="#6e9e70"/>
<circle cx="386.40" cy="468.3" r="6" fill="#6c9e72"/>
<circle cx="403.10" cy="468.3" r="6" fill="#6a9e74"/>
<circle cx="407.60" cy="468.3" r="6" fill="#699d75"/>
<circle cx="430.70" cy="468.3" r="6" fill="#659d78"/>
<circle cx="457.10" cy="468.3" r="6" fill="#609c7c"/>
<circle cx="459.00" cy="468.3" r="6" fill="#609c7c"/>
<circle cx="99.40" cy="497.9" r="6" fill="#d8cd4a"/>
<circle cx="100.40" cy="497.9" r="6" fill="#d8cd4a"/>
<circle cx="101.40" cy="497.9" r="6" fill="#d7cd4a"/>
<circle cx="102.40" cy="497.9" r="6" fill="#d7cd4a"/>
<circle cx="103.40" cy="497.9" r="6" fill="#d7cc4b"/>
<circle cx="104.40" cy="497.9" r="6" fill="#d6cc4b"/>
<circle cx="105.40" cy="497.9" r="6" fill="#d6cc4b"/>
<circle cx="106.40" cy="497.9" r="6" fill="#d6cc4b"/>
<circle cx="107.40" cy="497.9" r="6" fill="#d5cc4b"/>
<circle cx="108.40" cy="497.9" r="6" fill="#d5cc4b"/>
<circle cx="109.40" cy="497.9" r="6" fill="#d5cb4c"/>
<circle cx="110.40" cy="497.9" r="6" fill="#d4cb4c"/>
<circle cx="111.40" cy="497.9" r="6" fill="#d4cb4c"/>
<circle cx="112.40" cy="497.9" r="6" fill="#d4cb4c"/>
<circle cx="113.40" cy="497.9" r="6" fill="#d3cb4c"/>
<circle cx="114.40" cy="497.9" r="6" fill="#d3cb4c"/>
<circle cx="115.40" cy="497.9" r="6" fill="#d3ca4d"/>
<circle cx="116.40" cy="497.9" r="6" fill="#d2ca4d"/>
<circle cx="117.40" cy="497.9" r="6" fill="#d2ca4d"/>
<circle cx="118.40" cy="497.9" r="6" fill="#d2ca4d"/>
<circle cx="119.40" cy="497.9" r="6" fill="#d1ca4d"/>
<circle cx="120.40" cy="497.9" r="6" fill="#d1ca4d"/>
<circle cx="121.40" cy="497.9" r="6" fill="#d1c94e"/>
<circle cx="122.40" cy="497.9" r="6" fill="#d0c94e"/>
<circle cx="123.40" cy="497.9" r="6" fill="#d0c94e"/>
<circle cx="124.40" cy="497.9" r="6" fill="#d0c94e"/>
<circle cx="125.40" cy="497.9" r="6" fill="#cfc94e"/>
<circle cx="126.40" cy="497.9" r="6" fill="#cfc94e"/>
<circle cx="127.40" cy="497.9" r="6" fill="#cfc84f"/>
<circle cx="128.40" cy="497.9" r="6" fill="#cec84f"/>
<circle cx="129.40" cy="497.9" r="6" fill="#cec84f"/>
<circle cx="130.40" cy="497.9" r="6" fill="#cec84f"/>
<circle cx="131.40" cy="497.9" r="6" fill="#cdc84f"/>
<circle cx="132.40" cy="497.9" r="6" fill="#cdc84f"/>
<circle cx="133.40" cy="497.9" r="6" fill="#cdc750"/>
<circle cx="134.40" cy="497.9" r="6" fill="#ccc750"/>
<circle cx="135.40" cy="497.9" r="6" fill="#ccc750"/>
<circle cx="136.40" cy="497.9" r="6" fill="#ccc750"/>
<circle cx="137.40" cy="497.9" r="6" fill="#cbc750"/>
<circle cx="138.40" cy="497.9" r="6" fill="#cbc650"/>
<circle cx="139.40" cy="497.9" r="6" fill="#cac650"/>
<circle cx="140.40" cy="497.9" r="6" fill="#cac651"/>
<circle cx="141.40" cy="497.9" r="6" fill="#c9c651"/>
<circle cx="142.40" cy="497.9" r="6" fill="#c9c551"/>
<circle cx="143.40" cy="497.9" r="6" fill="#c9c551"/>
<circle cx="144.40" cy="497.9" r="6" fill="#c8c551"/>
<circle cx="145.40" cy="497.9" r="6" fill="#c8c551"/>
<circle cx="146.40" cy="497.9" r="6" fill="#c7c451"/>
<circle cx="147.40" cy="497.9" r="6" fill="#c7c452"/>
<circle cx="148.40" cy="497.9" r="6" fill="#c6c452"/>
<circle cx="149.40" cy="497.9" r="6" fill="#c6c452"/>
<circle cx="150.40" cy="497.9" r="6" fill="#c5c352"/>
<circle cx="151.40" cy="497.9" r="6" fill="#c5c352"/>
<circle cx="152.40" cy="497.9" r="6" fill="#c4c352"/>
<circle cx="153.40" cy="497.9" r="6" fill="#c4c352"/>
<circle cx="154.40" cy="497.9" r="6" fill="#c4c252"/>
<circle cx="155.40" cy="497.9" r="6" fill="#c3c253"/>
<circle cx="156.40" cy="497.9" r="6" fill="#c3c253"/>
<circle cx="157.40" cy="497.9" r="6" fill="#c2c253"/>
<circle cx="158.40" cy="497.9" r="6" fill="#c2c253"/>
<circle cx="159.40" cy="497.9" r="6" fill="#c1c153"/>
<circle cx="160.40" cy="497.9" r="6" fill="#c1c153"/>
<circle cx="161.40" cy="497.9" r="6" fill="#c0c153"/>
<circle cx="162.40" cy="497.9" r="6" fill="#c0c153"/>
<circle cx="163.40" cy="497.9" r="6" fill="#c0c054"/>
<circle cx="164.40" cy="497.9" r="6" fill="#bfc054"/>
<circle cx="165.40" cy="497.9" r="6" fill="#bfc054"/>
<circle cx="166.40" cy="497.9" r="6" fill="#bec054"/>
<circle cx="167.40" cy="497.9" r="6" fill="#bebf54"/>
<circle cx="168.40" cy="497.9" r="6" fill="#bdbf54"/>
<circle cx="169.40" cy="497.9" r="6" fill="#bdbf54"/>
<circle cx="170.40" cy="497.9" r="6" fill="#bcbf54"/>
<circle cx="171.40" cy="497.9" r="6" fill="#bcbe55"/>
<circle cx="172.40" cy="497.9" r="6" fill="#bbbe55"/>
<circle cx="173.40" cy="497.9" r="6" fill="#bbbe55"/>
<circle cx="174.40" cy="497.9" r="6" fill="#bbbe55"/>
<circle cx="175.40" cy="497.9" r="6" fill="#babd55"/>
<circle cx="176.40" cy="497.9" r="6" fill="#babd55"/>
<circle cx="177.40" cy="497.9" r="6" fill="#b9bd55"/>
<circle cx="178.40" cy="497.9" r="6" fill="#b9bd56"/>
<circle cx="179.40" cy="497.9" r="6" fill="#b8bc56"/>
<circle cx="180.40" cy="497.9" r="6" fill="#b8bc56"/>
<circle cx="181.40" cy="497.9" r="6" fill="#b7bc56"/>
<circle cx="182.00" cy="497.9" r="6" fill="#b7bc56"/>
<circle cx="188.00" cy="497.9" r="6" fill="#b4ba57"/>
<circle cx="194.00" cy="497.9" r="6" fill="#b2b958"/>
<circle cx="200.00" cy="497.9" r="6" fill="#afb858"/>
<circle cx="206.00" cy="497.9" r="6" fill="#acb659"/>
<circle cx="212.00" cy="497.9" r="6" fill="#a9b55a"/>
<circle cx="217.00" cy="497.9" r="6" fill="#a7b45b"/>
<circle cx="221.40" cy="497.9" r="6" fill="#a5b35b"/>
<circle cx="236.50" cy="497.9" r="6" fill="#9eb05d"/>
<circle cx="240.40" cy="497.9" r="6" fill="#9caf5e"/>
<circle cx="253.50" cy="497.9" r="6" fill="#96ad5f"/>
<circle cx="260.60" cy="497.9" r="6" fill="#93ab60"/>
<circle cx="278.25" cy="497.9" r="6" fill="#8aa863"/>
<circle cx="289.75" cy="497.9" r="6" fill="#85a664"/>
<circle cx="295.00" cy="497.9" r="6" fill="#83a565"/>
<circle cx="303.00" cy="497.9" r="6" fill="#7fa366"/>
<circle cx="316.60" cy="497.9" r="6" fill="#79a068"/>
<circle cx="321.50" cy="497.9" r="6" fill="#77a069"/>
<circle cx="391.70" cy="497.9" r="6" fill="#6c9e72"/>
<circle cx="491.70" cy="497.9" r="6" fill="#599b80"/>
<circle cx="526.60" cy="497.9" r="6" fill="#529a85"/>
<g style="font-family:'Liberation Sans', sans-serif;font-size:11px;fill:#595959">
<text x="14" y="559.2">Postcode and state/territory relates to the residential postcode and state/territory of the individual claiming a</text>
<text x="14" y="571.4">capital gain, as recorded in the individual's tax return form, and is not related to the location of the capital gain</text>
<text x="14" y="583.6">asset. Where residential postcode is not provided, the postal address postcode of the individual is used.</text>
</g>
<g style="font-family:'Liberation Sans', sans-serif;font-size:12px;font-weight:bold;fill:#137b8d">
<text x="13.5" y="610">Selected item:</text>
<text x="259.5" y="610">Year:</text>
<text x="397.5" y="610">Highlight Postcode:</text>
</g>
<g style="font-family:'Liberation Sans', sans-serif;font-size:12px;fill:#333">
<text x="13.5" y="623.8">Net capital gain</text>
<text x="260.5" y="623.8">Multiple values</text>
<text x="399" y="623.8">No items highlighted</text>
</g>
<g style="font-family:'Liberation Sans', sans-serif;font-size:11px;fill:#555">
<text x="15.5" y="655.5"><tspan style="font-weight:bold;fill:#444">Source:</tspan> ATO Taxation Statistics</text>
<text x="14.5" y="668.6" style="fill:#3a8fb5">https://data.gov.au/data/dataset/taxation-statistics-2022-23</text>
<line x1="15" y1="670.5" x2="299.5" y2="670.5" stroke="#3a8fb5" stroke-width="1"/>
<text x="15.5" y="681.7"><tspan style="font-weight:bold;fill:#444">Latest data:</tspan> 2022–23 (annual)</text>
</g>
</svg>
</body></html>
